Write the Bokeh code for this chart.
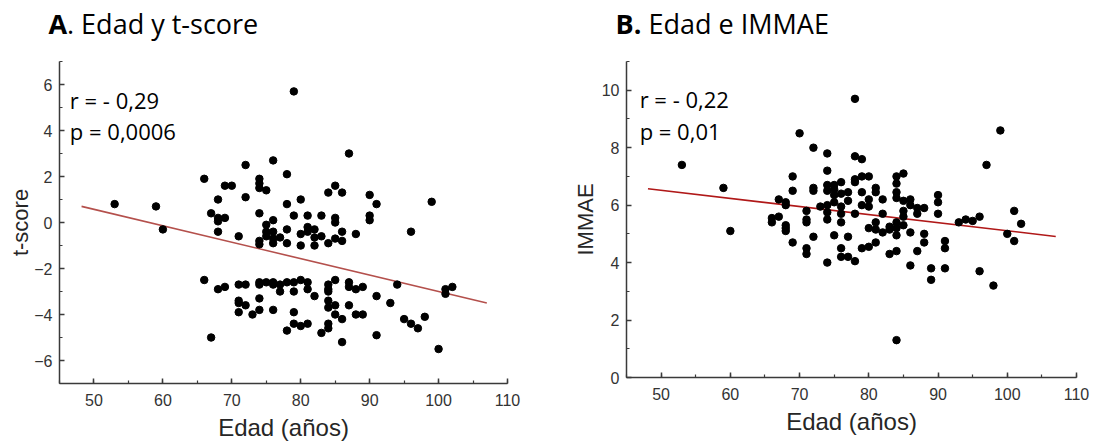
from bokeh.plotting import figure
from bokeh.layouts import row, column
from bokeh.models import Label, SingleIntervalTicker, Range1d
from bokeh.core.properties import value
from bokeh.embed import file_html
from bokeh.resources import INLINE

# ---------------- Panel A: Edad y t-score ----------------
age_a = [79, 87, 76, 72, 78, 66, 74, 74, 74, 75, 69, 70, 85, 84, 86, 90, 91, 72, 68, 80,
         78, 99, 53, 59, 60, 67, 68, 68, 69, 68, 74, 79, 81, 83, 85, 85, 90, 90, 76, 75,
         71, 75, 76, 78, 80, 81, 82, 86, 88, 96, 74, 74, 75, 76, 76, 77, 78, 80, 81, 82,
         82, 83, 84, 85, 86,
         66, 68, 69, 71, 72, 74, 74, 75, 76, 76, 77, 77, 78, 79, 80, 81, 81, 79, 84, 84,
         84, 85, 87, 87, 88, 89, 94, 101, 101, 102, 82, 91, 74, 71, 71, 72, 84, 84, 85, 87,
         93, 71, 73, 74, 76, 79, 85, 88, 89, 86, 95, 96, 97, 98, 79, 80, 81, 84, 84, 78,
         83, 91, 67, 86, 100]
tscore_a = [5.7, 3.0, 2.7, 2.5, 2.1, 1.9, 1.9, 1.7, 1.5, 1.4, 1.6, 1.6, 1.6, 1.3, 1.3, 1.2, 0.8, 1.1, 1.0, 1.0,
            0.8, 0.9, 0.8, 0.7, -0.3, 0.4, 0.2, 0.05, 0.2, -0.4, 0.4, 0.3, 0.3, 0.3, 0.2, 0.0, 0.3, 0.1, 0.1, -0.1,
            -0.6, -0.4, -0.4, -0.3, -0.5, -0.2, -0.3, -0.4, -0.5, -0.4, -0.8, -0.95, -0.6, -0.7, -0.9, -0.65, -0.9, -1.0, -0.4, -0.65,
            -1.0, -0.6, -0.9, -0.7, -0.8,
            -2.5, -2.9, -2.8, -2.7, -2.7, -2.6, -2.7, -2.6, -2.6, -2.7, -2.7, -3.0, -2.6, -2.6, -2.5, -2.6, -2.9, -3.0, -2.7, -2.9,
            -3.0, -2.5, -2.6, -2.8, -2.9, -2.8, -2.7, -2.9, -3.1, -2.8, -3.2, -3.2, -3.3, -3.4, -3.5, -3.6, -3.4, -3.7, -3.6, -3.6,
            -3.5, -3.9, -4.0, -3.8, -3.8, -3.9, -4.0, -4.0, -4.0, -4.2, -4.2, -4.4, -4.6, -4.1, -4.4, -4.5, -4.4, -4.4, -4.6, -4.7,
            -4.8, -4.9, -5.0, -5.2, -5.5]
fit_a_x = [48.2, 107.0]
fit_a_y = [0.70, -3.50]

# ---------------- Panel B: Edad e IMMAE ----------------
age_b = [53, 59, 60, 66, 66, 67, 67, 68, 68, 68, 68, 68, 69, 69, 69, 70, 71, 71, 71, 71,
         71, 72, 72, 72, 72, 73, 74, 74, 74, 74, 74, 74, 74, 74, 75, 75, 75, 75, 75, 76,
         76, 76, 76, 76, 76, 76, 77, 77, 77, 77, 78, 78, 78, 78, 78, 78, 79, 79, 79, 79,
         79, 80, 80, 80, 80, 80, 81, 81, 81, 81, 81, 82, 82, 82, 83, 83, 83, 84, 84, 84,
         84, 84, 84, 84, 84, 84, 85, 85, 85, 85, 85, 86, 86, 86, 86, 87, 87, 87, 88, 88,
         88, 89, 89, 90, 90, 90, 91, 91, 91, 93, 94, 95, 96, 96, 97, 98, 99, 100, 101, 101,
         102]
immae_b = [7.4, 6.6, 5.1, 5.55, 5.4, 6.2, 5.6, 6.1, 6.0, 5.3, 5.2, 5.1, 7.0, 6.5, 4.7, 8.5, 5.8, 5.5, 5.4, 4.5,
           4.3, 8.0, 6.6, 6.5, 4.9, 5.95, 7.8, 7.2, 6.7, 6.5, 6.0, 5.75, 5.5, 4.0, 6.7, 6.55, 6.35, 6.1, 4.95, 6.8,
           6.4, 5.95, 5.7, 5.4, 4.5, 4.2, 6.45, 6.15, 4.9, 4.2, 9.7, 7.7, 6.9, 6.8, 5.7, 4.05, 7.6, 7.0, 6.45, 6.0,
           4.5, 7.0, 6.2, 5.95, 5.2, 4.55, 6.6, 6.45, 5.4, 5.15, 4.7, 6.2, 5.7, 5.05, 5.25, 5.15, 4.3, 7.0, 6.75, 6.45,
           6.25, 5.4, 5.2, 4.95, 4.4, 1.3, 7.1, 6.15, 5.8, 5.6, 5.3, 6.2, 6.0, 5.05, 3.9, 5.9, 5.7, 4.4, 5.9, 5.0,
           4.7, 3.8, 3.4, 6.35, 6.1, 5.7, 4.75, 4.5, 3.8, 5.4, 5.5, 5.45, 5.6, 3.7, 7.4, 3.2, 8.6, 5.0, 5.8, 4.75,
           5.35]
fit_b_x = [48.1, 107.0]
fit_b_y = [6.57, 4.91]

x_label = "Edad (años)"
TICK_FONT = "Liberation Sans"
NOTE_FONT = "Open Sans"


def style_axes(p, xint, yint, ylabel_standoff):
    p.xaxis.ticker = SingleIntervalTicker(interval=xint, num_minor_ticks=2)
    p.yaxis.ticker = SingleIntervalTicker(interval=yint, num_minor_ticks=2)
    for ax in (p.xaxis[0], p.yaxis[0]):
        ax.axis_line_color = "#3a3a3a"
        ax.axis_line_width = 1.5
        ax.major_tick_line_color = "#3a3a3a"
        ax.major_tick_line_width = 1.5
        ax.minor_tick_line_color = "#3a3a3a"
        ax.minor_tick_line_width = 1.2
        ax.major_tick_in = 5
        ax.major_tick_out = 0
        ax.minor_tick_in = 3
        ax.minor_tick_out = 0
        ax.major_label_text_font = TICK_FONT
        ax.major_label_text_font_size = "16px"
        ax.major_label_text_color = "#333333"
        ax.axis_label_text_font = TICK_FONT
        ax.axis_label_text_font_style = "normal"
        ax.axis_label_text_color = "#262626"
    p.xaxis.axis_label_text_font_size = "24px"
    p.yaxis.axis_label_text_font_size = "22px"
    p.xaxis.major_label_standoff = 10
    p.xaxis.axis_label_standoff = 5
    p.yaxis.major_label_standoff = 7
    p.yaxis.axis_label_standoff = ylabel_standoff
    p.xgrid.visible = False
    p.ygrid.visible = False
    p.outline_line_color = None


def add_note(p, text, x, y):
    p.add_layout(Label(x=x, y=y, text=text, text_font=NOTE_FONT, text_font_size="22px",
                       text_color="black", text_baseline="alphabetic"))


# ---- title strip (panel letters in bold) ----
TITLE_H = 54
TITLE_Y = TITLE_H - 23
pt = figure(width=1106, height=TITLE_H, x_range=Range1d(0, 1106), y_range=Range1d(0, TITLE_H),
            min_border=0, min_border_top=0, min_border_bottom=0, min_border_left=0,
            min_border_right=0, x_axis_location=None, y_axis_location=None,
            output_backend="svg", toolbar_location=None)
pt.title.visible = False
pt.grid.visible = False
pt.outline_line_color = None
pt.text(x=[48, 615], y=[TITLE_Y, TITLE_Y], text=["A", "B."], text_font=value(NOTE_FONT),
        text_font_style="bold", text_font_size="27px", text_color="black",
        text_baseline="alphabetic")
pt.text(x=[66.5, 648], y=[TITLE_Y, TITLE_Y], text=[". Edad y t-score", "Edad e IMMAE"],
        text_font=value(NOTE_FONT), text_font_size="27px", text_color="black",
        text_baseline="alphabetic")

# ---- figure A ----
pA = figure(frame_width=448, frame_height=322, min_border_left=59, min_border_right=46,
            min_border_top=59 - TITLE_H, min_border_bottom=60,
            x_range=Range1d(45, 110), y_range=Range1d(-7, 7),
            output_backend="svg", toolbar_location=None,
            x_axis_label=x_label, y_axis_label="t-score")
pA.title.visible = False
style_axes(pA, 10, 2, -2)
pA.line(fit_a_x, fit_a_y, line_color="#b4504c", line_width=1.6)
pA.scatter(age_a, tscore_a, size=7.5, fill_color="black", line_color="black")
add_note(pA, "r = - 0,29", 46.5, 5.33)
add_note(pA, "p = 0,0006", 46.5, 4.00)

# ---- figure B ----
pB = figure(frame_width=450, frame_height=316, min_border_left=73, min_border_right=30,
            min_border_top=61 - TITLE_H, min_border_bottom=64,
            x_range=Range1d(45, 110), y_range=Range1d(0, 11),
            output_backend="svg", toolbar_location=None,
            x_axis_label=x_label, y_axis_label="IMMAE")
pB.title.visible = False
style_axes(pB, 10, 2, 1)
pB.line(fit_b_x, fit_b_y, line_color="#b01818", line_width=1.6)
pB.scatter(age_b, immae_b, size=7.5, fill_color="black", line_color="black")
add_note(pB, "r = - 0,22", 46.9, 9.70)
add_note(pB, "p = 0,01", 46.9, 8.58)

layout = column(pt, row(pA, pB, spacing=0), spacing=0)
open("out.html", "w").write(file_html(layout, INLINE))
